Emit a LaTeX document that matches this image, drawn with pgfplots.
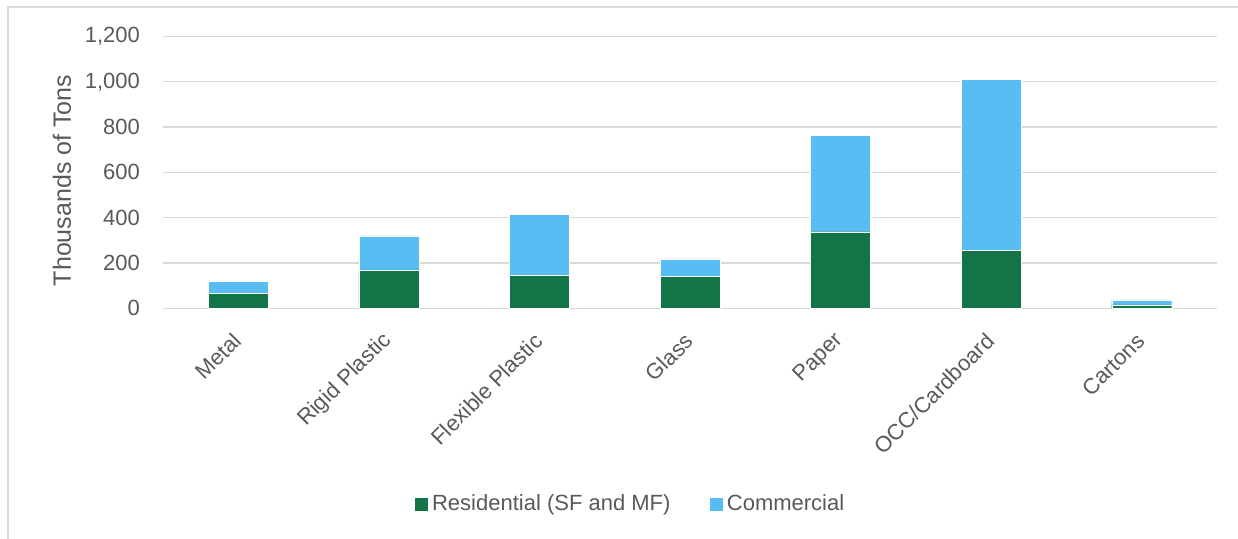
\documentclass[border=0pt]{standalone}
\usepackage{pgfplots}
\pgfplotsset{compat=1.18}
\usepackage{pgfplotstable}
\usepackage{fontspec}
\setmainfont{Liberation Sans}
\definecolor{resgreen}{HTML}{137547}
\definecolor{comblue}{HTML}{57BDF2}
\definecolor{txtgray}{HTML}{595959}
\definecolor{gridgray}{HTML}{D9D9D9}
\pgfplotstableread{
x res com
0 65 55
1 170 150
2 144 271
3 140 78
4 338 427
5 257 753
6 15 22
}\datatable
\begin{document}
\begin{tikzpicture}
\useasboundingbox (0,0) rectangle (619pt,269.5pt);
\draw[gridgray, line width=0.7pt] (4pt,0) -- (4pt,266pt) -- (619pt,266pt);
\begin{axis}[
  at={(81.5pt,115.35pt)}, anchor=south west,
  scale only axis, width=527pt, height=135.9pt,
  ybar stacked, bar width=30pt,
  xmin=-0.5, xmax=6.5, ymin=0, ymax=1200,
  ytick={0,200,...,1200},
  xtick=data,
  xticklabels={Metal, Rigid Plastic, Flexible Plastic, Glass, Paper, OCC/Cardboard, Cartons},
  ymajorgrids, grid style={gridgray, line width=0.65pt},
  axis line style={draw=none},
  major tick length=0pt,
  yticklabel style={font=\fontsize{11}{13}\selectfont, text=txtgray, anchor=east, xshift=-8pt},
  xticklabel style={font=\fontsize{11}{13}\selectfont, text=txtgray, xshift=2pt, yshift=-12pt, rotate=45, anchor=east},
  /pgf/number format/assume math mode=true,
  /pgf/number format/1000 sep={,},
  ylabel={Thousands of Tons},
  ylabel style={font=\fontsize{12.5}{14}\selectfont, text=txtgray, at={(axis description cs:-0.0958,0.47)}, anchor=center},
  legend style={draw=none, at={(axis description cs:0.444,-0.72)}, anchor=center, legend columns=2,
    font=\fontsize{11}{13}\selectfont, text=txtgray,
    /tikz/every even column/.append style={column sep=17pt}},
  legend image code/.code={\fill[#1] (0pt,-3.5pt) rectangle (7pt,3.5pt);},
  legend cell align=left,
]
\addplot[fill=resgreen, draw=white, line width=0.2pt] table[x=x, y=res] {\datatable};
\addplot[fill=comblue, draw=white, line width=0.2pt] table[x=x, y=com] {\datatable};
\legend{Residential (SF and MF), Commercial}
\end{axis}
\end{tikzpicture}
\end{document}
